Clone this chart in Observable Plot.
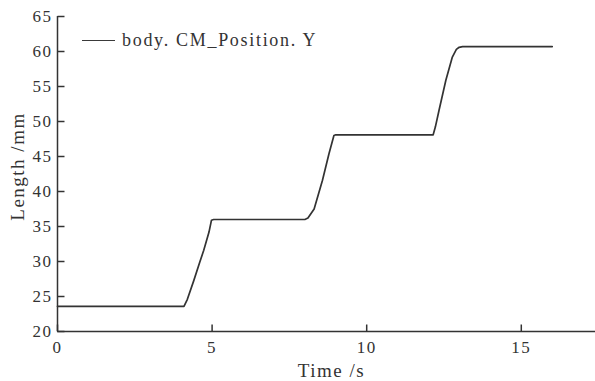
<!DOCTYPE html>
<html>
<head>
<meta charset="utf-8">
<script src="https://cdn.jsdelivr.net/npm/d3@7"></script>
<script src="https://cdn.jsdelivr.net/npm/@observablehq/plot@0.6"></script>
<style>
  html, body { margin: 0; padding: 0; background: #fff; }
  #wrap { position: relative; width: 595px; height: 381px; }
  #legend { position: absolute; left: 82px; top: 30px; display: flex; align-items: center;
            font-family: "Liberation Serif", "Times New Roman", serif; font-size: 18px; letter-spacing: 1.7px; color: #333; }
  #legend .sw { display: inline-block; width: 33px; height: 0; border-top: 1.6px solid #3a3a3a; margin-right: 7px; }
</style>
</head>
<body>
<div id="wrap"><div id="legend"><span class="sw"></span><span id="legtext"></span></div></div>
<script>
const seriesName = "body. CM_Position. Y";
const times  = [0, 4.09, 4.2, 4.41, 4.6, 4.73, 4.9, 4.98, 5.05, 8.0, 8.1, 8.3, 8.57, 8.78, 8.94, 9.0, 12.15, 12.22, 12.34, 12.56, 12.77, 12.9, 12.99, 13.1, 16.0];
const values = [23.6, 23.6, 24.6, 27.3, 29.9, 31.6, 34.2, 35.9, 36.0, 36.0, 36.2, 37.5, 41.6, 45.4, 48.0, 48.1, 48.1, 49.2, 51.6, 55.9, 59.2, 60.3, 60.6, 60.7, 60.7];
const xTicks = [0, 5, 10, 15];
const yTicks = [20, 25, 30, 35, 40, 45, 50, 55, 60, 65];
const xLabel = "Time /s";
const yLabel = "Length /mm";

const W = 595, H = 381, mL = 57, mR = 0, mT = 16, mB = 50;
const xDomain = [0, 17.4], yDomain = [20, 65];
const tickPx = 7;
// inward tick length expressed in data units of each scale
const xTickLen = tickPx * (xDomain[1] - xDomain[0]) / (W - mL - mR);
const yTickLen = tickPx * (yDomain[1] - yDomain[0]) / (H - mT - mB);

const data = times.map((t, i) => ({t, v: values[i]}));
const ink = "#333";
const txt = "#333";

const chart = Plot.plot({
  width: W,
  height: H,
  marginLeft: mL,
  marginRight: mR,
  marginTop: mT,
  marginBottom: mB,
  style: {fontFamily: "'Liberation Serif', 'Times New Roman', serif", background: "#fff", color: txt, letterSpacing: "1.5px"},
  x: {domain: xDomain},
  y: {domain: yDomain},
  marks: [
    Plot.axisY({ticks: yTicks, tickSize: 0, tickPadding: 5, fontSize: 17, fill: txt, label: null}),
    Plot.axisX({ticks: xTicks, tickSize: 0, tickPadding: 9, fontSize: 17, fill: txt, label: null}),
    Plot.link(yTicks, {x1: xDomain[0], x2: xDomain[0] + xTickLen, y1: d => d, y2: d => d, stroke: ink, strokeWidth: 1.5}),
    Plot.link(xTicks, {x1: d => d, x2: d => d, y1: yDomain[0], y2: yDomain[0] + yTickLen, stroke: ink, strokeWidth: 1.5}),
    Plot.ruleX([0], {y1: 20, y2: 65, stroke: ink, strokeWidth: 1.5}),
    Plot.ruleY([20], {stroke: ink, strokeWidth: 1.5}),
    Plot.line(data, {x: "t", y: "v", stroke: ink, strokeWidth: 1.7}),
    Plot.text([xLabel], {frameAnchor: "bottom", dx: 5, dy: 39, fontSize: 19, fill: txt, textAnchor: "middle", lineAnchor: "middle"}),
    Plot.text([yLabel], {frameAnchor: "left", dx: -40, dy: -7.5, rotate: -90, fontSize: 19, fill: txt, textAnchor: "middle", lineAnchor: "middle"})
  ]
});
document.getElementById("wrap").prepend(chart);
document.getElementById("legtext").textContent = seriesName;
</script>
</body>
</html>
